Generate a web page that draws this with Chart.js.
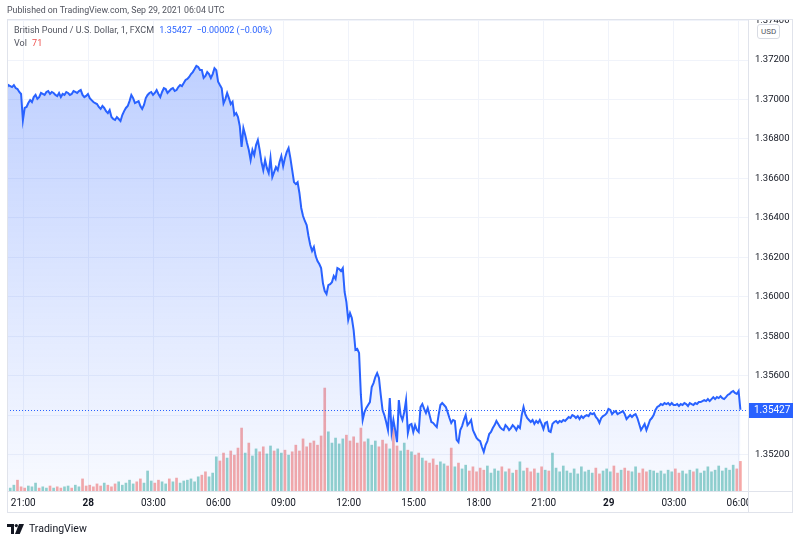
<!DOCTYPE html>
<html>
<head>
<meta charset="utf-8">
<script src="https://cdn.jsdelivr.net/npm/chart.js@4.4.0/dist/chart.umd.min.js"></script>
<style>
  html, body { margin: 0; padding: 0; background: #fff; }
  body { width: 800px; height: 538px; position: relative; overflow: hidden; font-family: Roboto, "Liberation Sans", sans-serif; color: #131722; }
  #c { position: absolute; left: 0; top: 0; }
  .t { position: absolute; white-space: nowrap; line-height: 1; }
  .usd { position: absolute; left: 757px; top: 24px; font-size: 8px; padding: 2px 3px; border: 1px solid #d8dbe3; border-radius: 3px; color: #50535e; background: #fff; }
</style>
</head>
<body>
<canvas id="c" width="800" height="538"></canvas>
<div class="t" style="left:7px;top:6px;font-size:8.8px;color:#50535e">Published on TradingView.com, Sep 29, 2021 06:04 UTC</div>
<div class="t" style="left:14px;top:26px;font-size:9px;color:#50535e">British Pound / U.S. Dollar, 1, FXCM <span style="color:#2962ff;margin-left:3px">1.35427&nbsp; −0.00002 (−0.00%)</span></div>
<div class="t" style="left:14px;top:39px;font-size:9px;color:#50535e">Vol <span style="color:#ef5350;margin-left:3px">71</span></div>
<div class="usd">USD</div>
<div class="t" style="left:7px;top:520px;">
  <svg width="17" height="10" viewBox="0 0 17 10" style="vertical-align:middle"><path d="M0 0h7v10H4V3H0z" fill="#131722"/><circle cx="9.3" cy="1.6" r="1.6" fill="#131722"/><path d="M12 0h5l-4.2 10H8z" fill="#131722"/></svg>
  <span style="font-size:10.5px;color:#131722;vertical-align:middle;margin-left:1px">TradingView</span>
</div>
<script>
// GBP/USD 1-minute, FXCM. x = minutes after 21:00 UTC Sep 27
const startMinute = -46;
const priceStep = 5;    // one price sample every 5 minutes
const volStep = 10;     // one volume bar every 10 minutes
const lastPrice = 1.35427;

const prices = [
  1.37058,1.37073,1.37068,1.37063,1.37073,1.37058,1.37053,1.37038,1.37028,1.36895,
  1.36957,1.36962,1.36982,1.36997,1.36987,1.37012,1.37023,1.37003,1.37012,1.37033,
  1.37028,1.37023,1.37038,1.37043,1.37028,1.37038,1.37033,1.37023,1.37017,1.37033,
  1.37012,1.37028,1.37023,1.37038,1.37033,1.37023,1.37028,1.37043,1.37038,1.37033,
  1.37043,1.37048,1.37023,1.37012,1.37018,1.37028,1.37007,1.36997,1.36987,1.36982,
  1.36977,1.36962,1.36952,1.36967,1.36957,1.36941,1.36931,1.36946,1.36911,1.36901,
  1.36896,1.36911,1.36901,1.36891,1.36921,1.36941,1.36957,1.36967,1.36992,1.37023,
  1.37007,1.36982,1.36987,1.36992,1.36967,1.36952,1.36972,1.37007,1.37023,1.37033,
  1.37038,1.37023,1.37033,1.37048,1.37028,1.37012,1.37038,1.37058,1.37053,1.37033,
  1.37043,1.37053,1.37058,1.37043,1.37048,1.37063,1.37073,1.37068,1.37083,1.37099,
  1.37104,1.37114,1.37129,1.37139,1.37154,1.37170,1.37165,1.37149,1.37149,1.37109,
  1.37119,1.37139,1.37129,1.37109,1.37129,1.37159,1.37149,1.37090,1.37073,1.37057,
  1.36980,1.37002,1.37033,1.37007,1.36977,1.36989,1.36921,1.36931,1.36911,1.36865,
  1.36760,1.36855,1.36820,1.36779,1.36744,1.36693,1.36744,1.36718,1.36769,1.36794,
  1.36744,1.36683,1.36642,1.36693,1.36652,1.36627,1.36703,1.36607,1.36632,1.36657,
  1.36642,1.36683,1.36713,1.36662,1.36703,1.36734,1.36754,1.36703,1.36642,1.36581,
  1.36571,1.36581,1.36526,1.36450,1.36409,1.36384,1.36363,1.36308,1.36262,1.36232,
  1.36252,1.36206,1.36181,1.36166,1.36145,1.36069,1.36029,1.36014,1.36059,1.36064,
  1.36074,1.36105,1.36090,1.36145,1.36140,1.36130,1.36145,1.36024,1.35973,1.35882,
  1.35917,1.35892,1.35831,1.35730,1.35735,1.35715,1.35502,1.35375,1.35415,1.35436,
  1.35451,1.35466,1.35542,1.35562,1.35593,1.35613,1.35588,1.35502,1.35425,1.35400,
  1.35365,1.35324,1.35486,1.35314,1.35375,1.35324,1.35263,1.35476,1.35400,1.35375,
  1.35415,1.35476,1.35309,1.35350,1.35355,1.35314,1.35349,1.35324,1.35314,1.35441,
  1.35456,1.35431,1.35410,1.35436,1.35400,1.35365,1.35360,1.35349,1.35339,1.35400,
  1.35451,1.35461,1.35451,1.35441,1.35415,1.35385,1.35360,1.35375,1.35370,1.35274,
  1.35263,1.35324,1.35344,1.35375,1.35400,1.35349,1.35360,1.35375,1.35324,1.35304,
  1.35284,1.35274,1.35268,1.35238,1.35213,1.35248,1.35268,1.35304,1.35314,1.35334,
  1.35349,1.35370,1.35355,1.35339,1.35329,1.35324,1.35349,1.35339,1.35324,1.35334,
  1.35349,1.35339,1.35324,1.35344,1.35334,1.35400,1.35441,1.35405,1.35385,1.35375,
  1.35365,1.35375,1.35355,1.35370,1.35360,1.35375,1.35355,1.35329,1.35360,1.35365,
  1.35319,1.35314,1.35355,1.35365,1.35370,1.35360,1.35370,1.35365,1.35375,1.35370,
  1.35380,1.35390,1.35385,1.35400,1.35395,1.35385,1.35395,1.35380,1.35395,1.35385,
  1.35395,1.35400,1.35395,1.35410,1.35405,1.35410,1.35390,1.35380,1.35360,1.35385,
  1.35395,1.35400,1.35410,1.35431,1.35426,1.35405,1.35415,1.35420,1.35405,1.35410,
  1.35415,1.35420,1.35405,1.35380,1.35390,1.35400,1.35390,1.35400,1.35405,1.35385,
  1.35355,1.35324,1.35339,1.35355,1.35324,1.35349,1.35375,1.35385,1.35400,1.35426,
  1.35441,1.35446,1.35456,1.35451,1.35461,1.35456,1.35461,1.35451,1.35461,1.35451,
  1.35451,1.35456,1.35446,1.35456,1.35451,1.35461,1.35456,1.35446,1.35461,1.35456,
  1.35451,1.35461,1.35456,1.35466,1.35466,1.35471,1.35476,1.35471,1.35481,1.35471,
  1.35481,1.35491,1.35481,1.35491,1.35486,1.35496,1.35486,1.35481,1.35491,1.35502,
  1.35507,1.35517,1.35522,1.35512,1.35507,1.35522,1.35427
];

const volumes = [
  10,7,14,26,10,7,12,10,19,7,
  10,7,12,7,10,7,10,12,7,14,
  10,29,12,14,10,17,12,19,14,10,
  17,22,14,19,26,17,22,29,19,48,
  24,19,26,22,17,29,22,31,19,24,
  26,29,22,34,38,46,34,43,82,72,
  91,79,96,86,103,151,91,115,84,101,
  94,106,89,108,96,101,91,98,86,94,
  110,96,125,106,115,120,110,132,247,142,
  115,127,113,125,134,120,130,115,151,118,
  125,110,120,106,122,113,101,151,108,96,
  115,98,94,86,91,79,72,67,77,62,
  70,65,60,103,58,67,53,62,48,58,
  46,55,50,60,43,53,48,58,46,53,
  43,50,70,48,55,46,53,43,58,50,
  48,91,55,46,60,48,43,53,41,58,
  46,50,43,55,41,48,53,46,60,43,
  50,55,48,46,58,43,53,46,50,48,
  43,48,41,50,46,53,43,48,41,50,
  46,53,43,48,58,46,50,60,48,55,
  50,62,53,71
];

const priceTicks = [1.352, 1.354, 1.356, 1.358, 1.360, 1.362, 1.364, 1.366, 1.368, 1.370, 1.372, 1.374];
const timeTicks = [0, 180, 360, 540, 720, 900, 1080, 1260, 1440, 1620, 1800, 1980];
const timeLabels = ['21:00', '28', '03:00', '06:00', '09:00', '12:00', '15:00', '18:00', '21:00', '29', '03:00', '06:00'];

const FONT = 'Roboto, "Liberation Sans", sans-serif';
const BLUE = '#2962ff';

const pricePts = prices.map((p, i) => ({ x: startMinute + i * priceStep, y: p }));
const volPts = volumes.map((v, i) => ({ x: startMinute + i * volStep, y: v }));
const k = volStep / priceStep;
const volColors = volumes.map((v, i) => (i > 0 && prices[i * k] < prices[(i - 1) * k]) ? 'rgba(239,83,80,0.5)' : 'rgba(38,166,154,0.5)');

function areaFill(ctx) {
  const a = ctx.chart.chartArea;
  if (!a) return 'rgba(41,98,255,0.2)';
  const g = ctx.chart.ctx.createLinearGradient(0, a.top + 40, 0, a.bottom);
  g.addColorStop(0, 'rgba(41,98,255,0.30)');
  g.addColorStop(1, 'rgba(41,98,255,0.03)');
  return g;
}

// frame, last-price line and price tag
const decor = {
  id: 'decor',
  afterDatasetsDraw(chart) {
    const { ctx, chartArea: a, scales: { y } } = chart;
    const py = Math.round(y.getPixelForValue(lastPrice)) + 0.5;
    ctx.save();
    ctx.strokeStyle = BLUE;
    ctx.lineWidth = 1;
    ctx.setLineDash([1, 2]);
    ctx.beginPath(); ctx.moveTo(a.left, py); ctx.lineTo(a.right, py); ctx.stroke();
    ctx.restore();
  },
  afterDraw(chart) {
    const { ctx, chartArea: a, scales: { y } } = chart;
    ctx.save();
    ctx.fillStyle = '#fff';
    ctx.fillRect(a.right + 1, a.bottom + 1, 60, 21);   // clip last time label
    ctx.fillRect(a.right + 1, 0, 60, a.top - 1);       // clip top price label
    ctx.strokeStyle = '#e0e3eb';
    ctx.lineWidth = 1;
    ctx.strokeRect(7.5, 19.5, 785, 493);
    ctx.beginPath();
    ctx.moveTo(a.right + 0.5, 19.5); ctx.lineTo(a.right + 0.5, 512.5);
    ctx.moveTo(7.5, a.bottom + 0.5); ctx.lineTo(792.5, a.bottom + 0.5);
    ctx.stroke();
    const py = y.getPixelForValue(lastPrice);
    ctx.fillStyle = BLUE;
    ctx.fillRect(a.right + 1, Math.round(py) - 7, 44, 15);
    ctx.fillStyle = '#fff';
    ctx.font = '10px ' + FONT;
    ctx.textBaseline = 'middle';
    ctx.fillText(lastPrice.toFixed(5), a.right + 6, Math.round(py) + 0.5);
    ctx.restore();
  }
};

new Chart(document.getElementById('c'), {
  type: 'line',
  data: {
    datasets: [
      { type: 'line', data: pricePts, yAxisID: 'y', borderColor: BLUE, borderWidth: 2, pointRadius: 0, tension: 0, fill: 'start', backgroundColor: areaFill, order: 0 },
      { type: 'bar', data: volPts, yAxisID: 'yv', backgroundColor: volColors, barThickness: 2, order: 1 }
    ]
  },
  options: {
    responsive: false,
    animation: false,
    devicePixelRatio: 1,
    layout: { padding: { left: 7, right: 8, top: 20, bottom: 26 } },
    plugins: { legend: { display: false }, tooltip: { enabled: false } },
    scales: {
      x: {
        type: 'linear', min: -45, max: 2005, offset: false,
        grid: { color: '#f0f3fa', drawTicks: false, offset: false },
        border: { display: false },
        afterBuildTicks: s => { s.ticks = timeTicks.map(v => ({ value: v })); },
        afterFit: s => { s.height = 21; },
        ticks: {
          autoSkip: false, maxRotation: 0, padding: 6, color: '#131722',
          font: c => ({ family: FONT, size: 10, weight: timeLabels[c.index] && timeLabels[c.index].length <= 2 ? 'bold' : 'normal' }),
          callback: (v, i) => timeLabels[i]
        }
      },
      y: {
        position: 'right', min: 1.35015, max: 1.37403,
        grid: { color: '#f0f3fa', drawTicks: false },
        border: { display: false },
        afterBuildTicks: s => { s.ticks = priceTicks.map(v => ({ value: v })); },
        afterFit: s => { s.width = 44; },
        ticks: { padding: 7, color: '#131722', font: { family: FONT, size: 9.5 }, callback: v => Number(v).toFixed(5) }
      },
      yv: { display: false, min: 0, max: 1130 }
    }
  },
  plugins: [decor]
});
</script>
</body>
</html>
